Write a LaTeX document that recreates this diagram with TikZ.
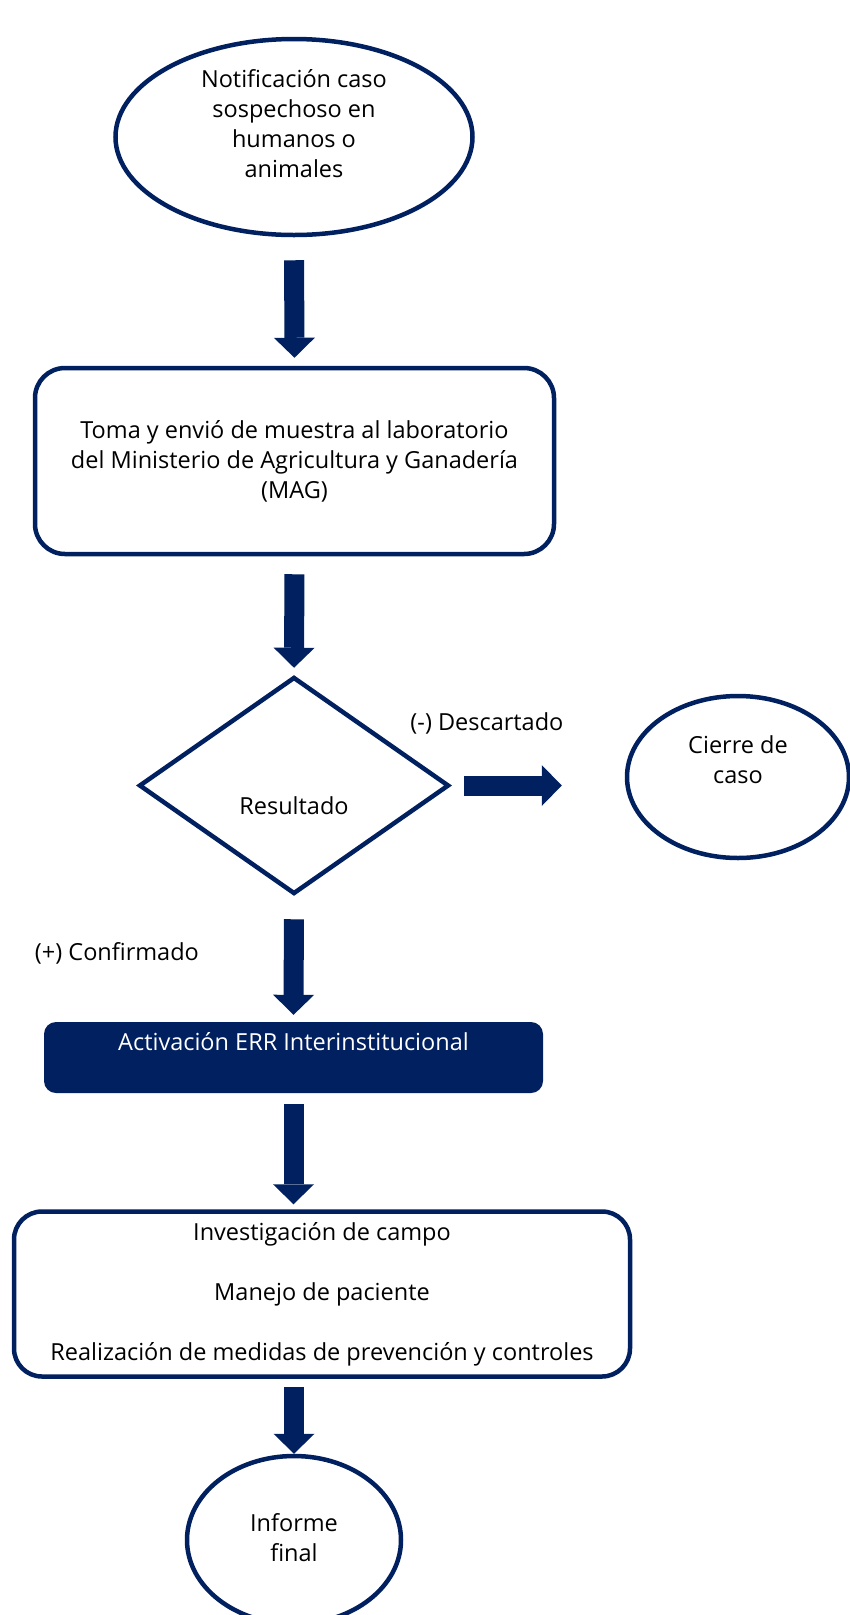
\documentclass[tikz,border=0pt]{standalone}
\usepackage{fontspec}
\setmainfont{Open Sans}
\usetikzlibrary{shapes,arrows.meta}
\definecolor{navy}{HTML}{002060}

\tikzset{
  outline/.style={draw=navy, line width=4.5pt, inner sep=0pt},
  txt/.style={font=\fontsize{23.5}{30}\selectfont, align=center},
  blockarrow/.style={draw=navy, line width=20pt,
    -{Triangle[width=41pt,length=20pt,line width=0pt]}}
}

\begin{document}
\begin{tikzpicture}[x=1pt,y=-1pt,txt]
\useasboundingbox (0,0) rectangle (850,1615);

\node[outline,
    ellipse,
    minimum width=357pt,
    minimum height=196pt,
    label={[txt,yshift=13pt]center:Notificación caso\\sospechoso en\\humanos o\\animales}
] (notif) at (294,137) {};

\node[outline,
    rounded corners=30pt,
    minimum width=519pt,
    minimum height=186pt,
    txt
] (muestra) at (294.5,461) { Toma y envió de muestra al laboratorio\\del Ministerio de Agricultura y Ganadería\\(MAG) };

\node[outline,
    diamond,
    minimum width=310pt,
    minimum height=217pt,
    label={[txt,yshift=-20pt]center:Resultado}
] (result) at (294,785.5) {};

\node[txt] (neg) at (490,723) { (-) Descartado };

\node[outline,
    ellipse,
    minimum width=222pt,
    minimum height=162pt,
    label={[txt,yshift=17pt]center:Cierre de\\caso}
] (cierre) at (738,777) {};

\node[txt] (pos) at (120,953) { (+) Confirmado };

\node[fill=navy,
    rounded corners=12pt,
    inner sep=0pt,
    minimum width=499pt,
    minimum height=71pt,
    label={[txt,text=white,yshift=15.5pt]center:Activación ERR Interinstitucional}
] (err) at (293.5,1057.5) {};

\node[outline,
    rounded corners=28pt,
    minimum width=616pt,
    minimum height=165pt,
    txt
] (acciones) at (322,1294) { Investigación de campo\\[30pt]Manejo de paciente\\[30pt]Realización de medidas de prevención y controles };

\node[outline,
    ellipse,
    minimum width=214pt,
    minimum height=168pt,
    label={[txt,yshift=2pt]center:Informe\\final}
] (informe) at (294,1540) {};

\draw[blockarrow, shorten <=23pt, shorten >=8pt] (notif.south) -- (muestra.north);
\draw[blockarrow, shorten <=18pt, shorten >=7pt] (muestra.south) -- (result.north);
\draw[blockarrow, shorten <=13pt, shorten >=63pt] (result.east) -- (result.east -| cierre.west);
\draw[blockarrow, shorten <=23pt, shorten >=7pt] (result.south) -- (err.north);
\draw[blockarrow, shorten <=11pt, shorten >=5pt] (err.south) -- (err.south |- acciones.north);
\draw[blockarrow, shorten <=8pt] (informe.north |- acciones.south) -- (informe.north);

\end{tikzpicture}
\end{document}
